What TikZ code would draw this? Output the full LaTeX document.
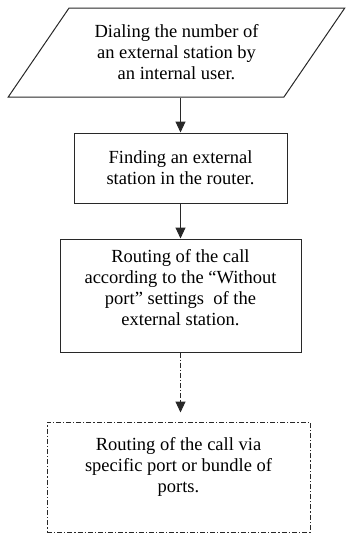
\documentclass[tikz,border=0pt]{standalone}
\usepackage{fontspec}
\setmainfont{Liberation Serif}
\usepackage{tikz}
\usetikzlibrary{arrows.meta, shapes.geometric, positioning, calc}
\definecolor{traco}{RGB}{40,40,40}

\begin{document}
\begin{tikzpicture}[x=1pt, y=-1pt,
    caixa/.style={draw=traco, line width=1pt, align=center,
        font=\fontsize{18.5}{21}\selectfont},
    seta/.style={draw=traco, line width=1pt, -{Triangle[width=10pt, length=11pt]}},
    pontilhado/.style={dash pattern=on 5pt off 2pt on 1.2pt off 2pt}]
    \useasboundingbox (0,0) rectangle (349,533);
    % entrada (paralelogramo)
    \node[caixa, trapezium, trapezium left angle=50, trapezium right angle=130,
        trapezium stretches=true, minimum width=337pt, minimum height=89pt,
        inner sep=0pt] (discagem) at (176.5,52.5)
        {Dialing the number of\\an external station by\\an internal user.};
    \node[caixa, minimum width=213pt, minimum height=70pt] (busca) at (180.5,168)
        {Finding an external\\station in the router.};
    \node[caixa, minimum width=241pt, minimum height=113pt, text depth=16pt] (rota) at (180.5,295.5)
        {Routing of the call\\according to the ``Without\\port'' settings~ of the\\external station.};
    \node[caixa, pontilhado, minimum width=263pt, minimum height=110pt, text depth=24pt] (porta) at (178.5,477)
        {Routing of the call via\\specific port or bundle of\\ports.};
    % setas
    \draw[seta] (discagem.south -| busca.north) -- (busca.north);
    \draw[seta] (busca.south) -- (rota.north);
    \draw[seta, pontilhado, shorten >=9pt] (rota.south) -- (rota.south |- porta.north);
\end{tikzpicture}
\end{document}
